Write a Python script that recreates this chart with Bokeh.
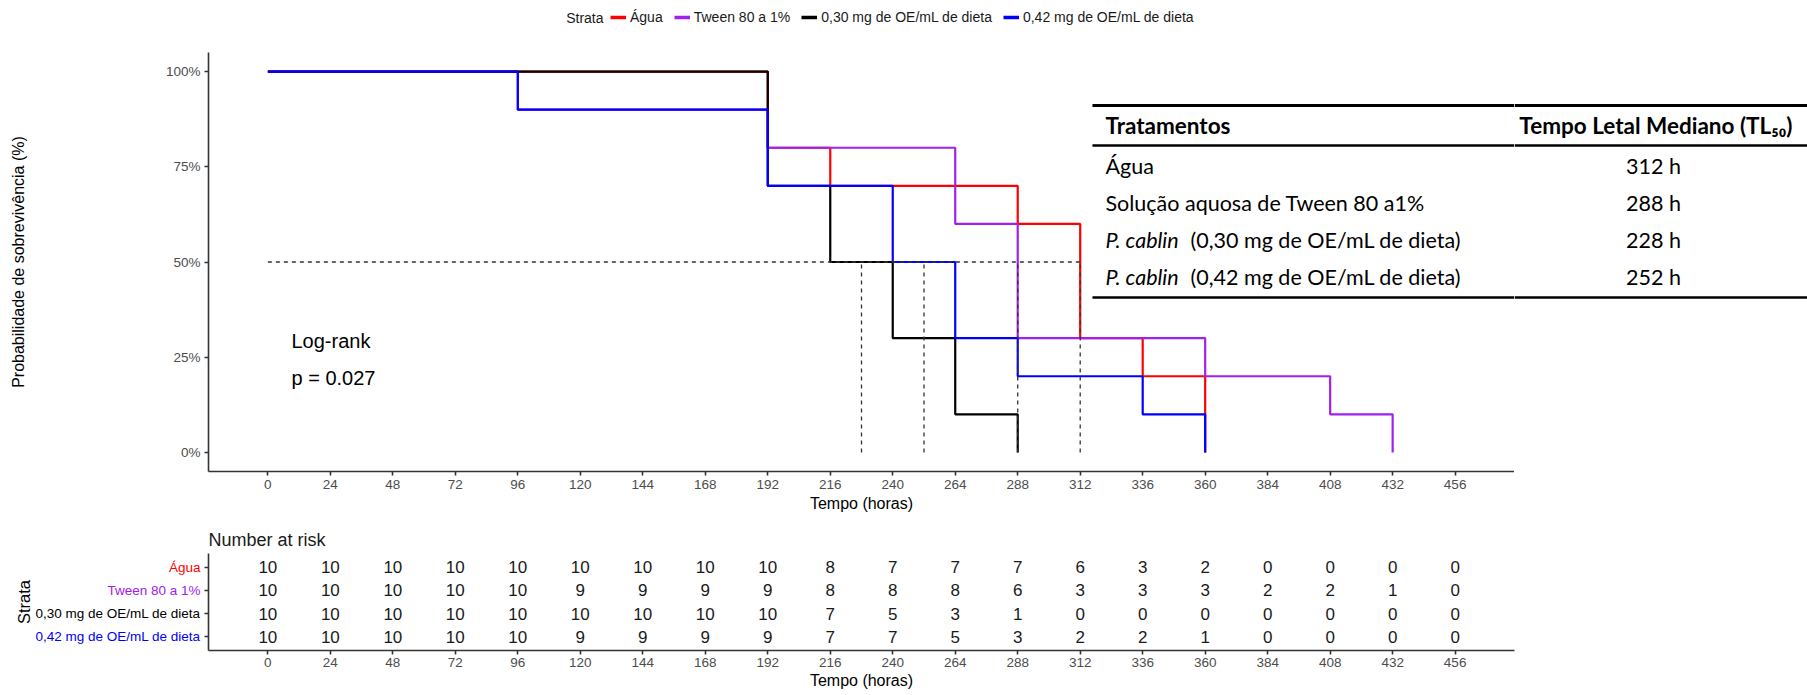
from bokeh.plotting import figure
from bokeh.models import (Range1d, FixedTicker, NumeralTickFormatter, Legend, LegendItem,
                          Label, CustomJSTickFormatter)
from bokeh.layouts import column, row
from bokeh.core.properties import value
from bokeh.embed import file_html
from bokeh.resources import INLINE

# ---------------- data ----------------
strata = ["Água", "Tween 80 a 1%", "0,30 mg de OE/mL de dieta", "0,42 mg de OE/mL de dieta"]
colors = ["#FF0000", "#A020F0", "#000000", "#0000FF"]

agua_t = [0, 192, 216, 288, 312, 336, 360]
agua_s = [1.0, 0.8, 0.7, 0.6, 0.3, 0.2, 0.0]
tween_t = [0, 96, 192, 264, 288, 360, 408, 432]
tween_s = [1.0, 0.9, 0.8, 0.6, 0.3, 0.2, 0.1, 0.0]
c030_t = [0, 192, 216, 240, 264, 288]
c030_s = [1.0, 0.7, 0.5, 0.3, 0.1, 0.0]
c042_t = [0, 96, 192, 240, 264, 288, 336, 360]
c042_s = [1.0, 0.9, 0.7, 0.5, 0.3, 0.2, 0.1, 0.0]

medians = [312, 288, 228, 252]

risk_times = [0, 24, 48, 72, 96, 120, 144, 168, 192, 216, 240, 264, 288, 312, 336, 360, 384, 408, 432, 456]
risk_agua = [10, 10, 10, 10, 10, 10, 10, 10, 10, 8, 7, 7, 7, 6, 3, 2, 0, 0, 0, 0]
risk_tween = [10, 10, 10, 10, 10, 9, 9, 9, 9, 8, 8, 8, 6, 3, 3, 3, 2, 2, 1, 0]
risk_c030 = [10, 10, 10, 10, 10, 10, 10, 10, 10, 7, 5, 3, 1, 0, 0, 0, 0, 0, 0, 0]
risk_c042 = [10, 10, 10, 10, 10, 9, 9, 9, 9, 7, 7, 5, 3, 2, 2, 1, 0, 0, 0, 0]

table_treatments = ["Água", "Solução aquosa de Tween 80 a1%",
                    "(0,30 mg de OE/mL de dieta)", "(0,42 mg de OE/mL de dieta)"]
table_italic_prefix = ["", "", "P. cablin", "P. cablin"]
table_tl50 = ["312 h", "288 h", "228 h", "252 h"]

x_ticks = list(range(0, 457, 24))

# ---------------- layout constants (page pixels) ----------------
TOTAL_W = 1807
LEG_H = 52
MAIN_H = 468
RISK_H = 695 - LEG_H - MAIN_H
FRAME_L = 208
FRAME_R = 1514
FONT = "Liberation Sans"
TICK_COL = "#4D4D4D"
AX_COL = "#333333"
TFONT = "Lato"
TSIZE = "21.5px"
THSIZE = "22.5px"

XR = (-22.8, 478.8)
YR = (-0.05, 1.05)


def style_axis(ax):
    ax.axis_line_color = AX_COL
    ax.axis_line_width = 1.6
    ax.major_tick_line_color = AX_COL
    ax.major_tick_line_width = 1.6
    ax.major_tick_in = 0
    ax.major_tick_out = 4
    ax.minor_tick_line_color = None
    ax.major_label_text_color = TICK_COL
    ax.major_label_text_font = FONT
    ax.major_label_text_font_size = "13.5px"
    ax.axis_label_text_font = FONT
    ax.axis_label_text_font_style = "normal"
    ax.axis_label_text_color = "#000000"
    ax.axis_label_text_font_size = "16px"


def blank(fig):
    fig.outline_line_color = None
    fig.xgrid.visible = False
    fig.ygrid.visible = False
    fig.background_fill_color = "white"
    fig.border_fill_color = "white"


# ---------------- legend strip ----------------
lg = figure(width=TOTAL_W, height=LEG_H, output_backend="svg", toolbar_location=None,
            x_range=Range1d(0, TOTAL_W), y_range=Range1d(LEG_H, 0),
            x_axis_location=None, y_axis_location=None, min_border=0)
blank(lg)
# legend keys: renderers placed outside the visible strip, only their legend glyph shows
leg_renderers = [lg.line(x=[-60, -40], y=[-30, -30], line_color=c, line_width=3.5) for c in colors]
legend = Legend(items=[LegendItem(label=s, renderers=[r]) for s, r in zip(strata, leg_renderers)],
                orientation="horizontal", location=(610, 27),
                padding=0, margin=0, spacing=11, label_standoff=4,
                glyph_width=16, glyph_height=16, label_height=16,
                label_text_font=FONT, label_text_font_size="14px",
                label_text_color="#1A1A1A",
                background_fill_alpha=0, border_line_alpha=0)
lg.add_layout(legend, "center")
lg.add_layout(Label(x=603, y=17, text="Strata", text_align="right", text_baseline="middle",
                    text_font=FONT, text_font_size="14px", text_color="#1A1A1A"))

# ---------------- main figure ----------------
p = figure(width=FRAME_R, height=MAIN_H, output_backend="svg", toolbar_location=None,
           x_range=Range1d(*XR), y_range=Range1d(*YR),
           min_border_left=FRAME_L, min_border_right=0, min_border_top=0,
           min_border_bottom=MAIN_H - (471 - LEG_H))
blank(p)
for ax in (p.xaxis[0], p.yaxis[0]):
    style_axis(ax)
p.xaxis.ticker = FixedTicker(ticks=x_ticks)
p.xaxis.axis_label = "Tempo (horas)"
p.xaxis.major_label_standoff = 4
p.xaxis.axis_label_standoff = 3
p.yaxis.ticker = FixedTicker(ticks=[0, 0.25, 0.5, 0.75, 1.0])
p.yaxis.formatter = NumeralTickFormatter(format="0%")
p.yaxis.axis_label = "Probabilidade de sobrevivência (%)"
p.yaxis.major_label_standoff = 4
p.yaxis.axis_label_standoff = 136

series = [(agua_t, agua_s), (tween_t, tween_s), (c030_t, c030_s), (c042_t, c042_s)]
for (t, s), c in zip(series, colors):
    p.step(x=t, y=s, mode="after", line_color=c, line_width=2.2)

# median lines
p.segment(x0=[0], y0=[0.5], x1=[max(medians)], y1=[0.5], line_color="#333333",
          line_width=1.3, line_dash="4 4")
p.segment(x0=medians, y0=[0] * len(medians), x1=medians, y1=[0.5] * len(medians),
          line_color="#333333", line_width=1.3, line_dash="4 4")


def dx(px):
    return (px - 267.4) / 2.6037


def dy(py):
    return YR[0] + (471 - py) / 380.9


# log-rank annotation
p.add_layout(Label(x=dx(291), y=dy(341), text="Log-rank", text_align="left", text_baseline="middle",
                   text_font=FONT, text_font_size="20px", text_color="#000000"))
p.add_layout(Label(x=dx(291), y=dy(378), text="p = 0.027", text_align="left", text_baseline="middle",
                   text_font=FONT, text_font_size="20px", text_color="#000000"))

# ---------------- table (left part inside main, right part in side figure) ----------------
side = figure(width=TOTAL_W - FRAME_R, height=MAIN_H, output_backend="svg", toolbar_location=None,
              x_range=Range1d(FRAME_R, TOTAL_W), y_range=p.y_range,
              x_axis_location=None, y_axis_location=None,
              min_border_left=0, min_border_right=0, min_border_top=0,
              min_border_bottom=MAIN_H - (471 - LEG_H))
blank(side)

rules = [(105, 2.8), (145, 2.3), (297, 2.5)]
for y_line, lw in rules:
    p.segment(x0=[dx(1092)], y0=[dy(y_line)], x1=[XR[1]], y1=[dy(y_line)],
              line_color="#000000", line_width=lw)
    side.segment(x0=[FRAME_R], y0=[dy(y_line)], x1=[TOTAL_W], y1=[dy(y_line)],
                 line_color="#000000", line_width=lw)

p.add_layout(Label(x=dx(1105), y=dy(125), text="Tratamentos", text_align="left", text_baseline="middle",
                   text_font=TFONT, text_font_size=THSIZE, text_font_style="bold", text_color="#000000"))
side.add_layout(Label(x=1792, y=dy(125), text="Tempo Letal Mediano (TL₅₀)", text_align="right",
                      text_baseline="middle", text_font=TFONT, text_font_size=THSIZE,
                      text_font_style="bold", text_color="#000000"))
row_y = [166, 203, 240, 277]
for ry, pre, name, tl in zip(row_y, table_italic_prefix, table_treatments, table_tl50):
    if pre:
        p.add_layout(Label(x=dx(1105), y=dy(ry), text=pre, text_align="left", text_baseline="middle",
                           text_font=TFONT, text_font_size=TSIZE, text_font_style="italic",
                           text_color="#000000"))
        p.add_layout(Label(x=dx(1190), y=dy(ry), text=name, text_align="left", text_baseline="middle",
                           text_font=TFONT, text_font_size=TSIZE, text_color="#000000"))
    else:
        p.add_layout(Label(x=dx(1105), y=dy(ry), text=name, text_align="left", text_baseline="middle",
                           text_font=TFONT, text_font_size=TSIZE, text_color="#000000"))
    side.add_layout(Label(x=1653, y=dy(ry), text=tl, text_align="center", text_baseline="middle",
                          text_font=TFONT, text_font_size=TSIZE, text_color="#000000"))

# ---------------- risk table ----------------
RISK_TOP = 553 - (LEG_H + MAIN_H)
RISK_BOT = 695 - 650
LAB_W = 202
rt = figure(width=TOTAL_W - LAB_W, height=RISK_H, output_backend="svg", toolbar_location=None,
            x_range=p.x_range, y_range=Range1d(0.4, 4.6),
            min_border_left=FRAME_L - LAB_W, min_border_right=TOTAL_W - FRAME_R,
            min_border_top=RISK_TOP, min_border_bottom=RISK_BOT)
blank(rt)
for ax in (rt.xaxis[0], rt.yaxis[0]):
    style_axis(ax)
rt.xaxis.ticker = FixedTicker(ticks=x_ticks)
rt.xaxis.axis_label = "Tempo (horas)"
rt.xaxis.major_label_standoff = 3
rt.xaxis.axis_label_standoff = 2
rt.yaxis.ticker = FixedTicker(ticks=[1, 2, 3, 4])
rt.yaxis.formatter = CustomJSTickFormatter(code="return ''")
rt.yaxis.major_label_standoff = 0
rt.title.text = "Number at risk"
rt.title.text_font = FONT
rt.title.text_font_size = "18px"
rt.title.text_font_style = "normal"
rt.title.text_color = "#1A1A1A"
rt.title.align = "left"
rt.title.standoff = 8

risk_rows = [risk_agua, risk_tween, risk_c030, risk_c042]
for i, vals in enumerate(risk_rows):
    rt.text(x=risk_times, y=[4 - i] * len(risk_times), text=[str(v) for v in vals],
            text_align="center", text_baseline="middle", text_font=value(FONT),
            text_font_size="17px", text_color="#1A1A1A")

# row labels (coloured strata names) to the left of the risk table
lab = figure(width=LAB_W, height=RISK_H, output_backend="svg", toolbar_location=None,
             x_range=Range1d(0, LAB_W), y_range=rt.y_range,
             x_axis_location=None, y_axis_location=None,
             min_border_left=0, min_border_right=0, min_border_top=RISK_TOP, min_border_bottom=RISK_BOT)
blank(lab)
lab.text(x=[200] * 4, y=[4, 3, 2, 1], text=strata, text_color=colors,
         text_align="right", text_baseline="middle", text_font=value(FONT), text_font_size="13.5px")
lab.add_layout(Label(x=23, y=2.5, text="Strata", angle=1.5707963,
                     text_align="center", text_baseline="middle", text_font=FONT,
                     text_font_size="16.5px", text_color="#000000"))

layout = column(lg, row(p, side, spacing=0), row(lab, rt, spacing=0), spacing=0)
open("out.html", "w").write(file_html(layout, INLINE))
